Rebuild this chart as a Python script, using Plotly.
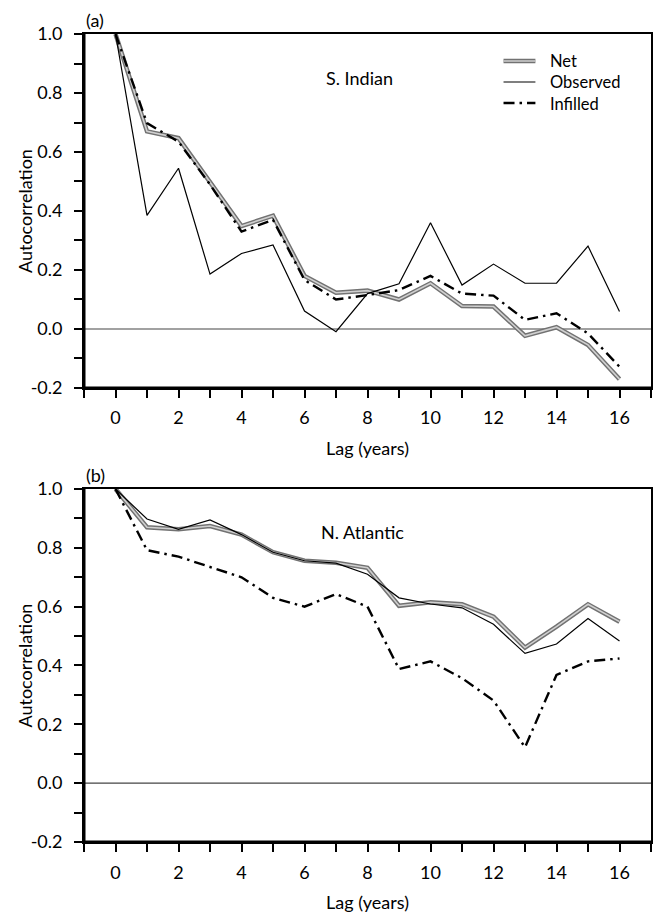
import plotly.graph_objects as go
from plotly.subplots import make_subplots

lags = list(range(17))

# (a) S. Indian
si_net = [1.0, 0.67, 0.647, 0.50, 0.349, 0.384, 0.18, 0.123, 0.13, 0.10, 0.155, 0.078, 0.076, -0.023, 0.006, -0.054, -0.17]
si_obs = [1.0, 0.385, 0.545, 0.186, 0.256, 0.285, 0.061, -0.009, 0.12, 0.153, 0.36, 0.149, 0.22, 0.155, 0.155, 0.281, 0.059]
si_inf = [1.0, 0.698, 0.635, 0.49, 0.33, 0.37, 0.166, 0.10, 0.115, 0.132, 0.18, 0.12, 0.113, 0.031, 0.053, -0.015, -0.128]

# (b) N. Atlantic
na_net = [1.0, 0.87, 0.863, 0.874, 0.845, 0.785, 0.756, 0.749, 0.732, 0.603, 0.615, 0.608, 0.566, 0.461, 0.532, 0.608, 0.549]
na_obs = [1.0, 0.898, 0.863, 0.895, 0.845, 0.785, 0.756, 0.748, 0.71, 0.63, 0.609, 0.596, 0.54, 0.441, 0.473, 0.56, 0.483]
na_inf = [1.0, 0.792, 0.77, 0.735, 0.70, 0.63, 0.60, 0.643, 0.60, 0.388, 0.414, 0.357, 0.281, 0.122, 0.368, 0.414, 0.424]

panel_labels = ["(a)", "(b)"]
region_names = ["S. Indian", "N. Atlantic"]
series_names = ["Net", "Observed", "Infilled"]
x_title = "Lag (years)"
y_title = "Autocorrelation"

x_tickvals = list(range(-1, 18))
x_ticktext = [str(v) if v % 2 == 0 and 0 <= v <= 16 else "" for v in x_tickvals]
y_tickvals = [round(-0.2 + 0.1 * i, 1) for i in range(13)]
y_ticktext = [f"{v:.1f}" if round(v * 10) % 2 == 0 else "" for v in y_tickvals]

FONT = "Lato, 'Open Sans', sans-serif"
FS = 18

# figure geometry (pixels)
W, H = 655, 915
ML, MR, MT, MB = 84, 2, 34, 73
PW, PH = W - ML - MR, H - MT - MB
DOM_A = [0.5619, 1.0]
DOM_B = [0.0, 0.4369]

NET_OUTER = dict(color="#727272", width=4.5)
NET_INNER = dict(color="#d0d0d0", width=1.6)
OBS_LINE = dict(color="black", width=1.2)
INF_LINE = dict(color="black", width=2.4, dash="11px,5px,2.5px,5px")

fig = make_subplots(rows=2, cols=1, vertical_spacing=0.125)

panels = [(si_net, si_obs, si_inf), (na_net, na_obs, na_inf)]
for i, (net, obs, inf) in enumerate(panels):
    row = i + 1
    # hatched grey "Net" band: darker outer stroke with a light core
    fig.add_trace(go.Scatter(x=lags, y=net, mode="lines", name=series_names[0],
                             line=NET_OUTER, showlegend=False), row=row, col=1)
    fig.add_trace(go.Scatter(x=lags, y=net, mode="lines", name=series_names[0],
                             line=NET_INNER, showlegend=False), row=row, col=1)
    fig.add_trace(go.Scatter(x=lags, y=obs, mode="lines", name=series_names[1],
                             line=OBS_LINE, showlegend=False), row=row, col=1)
    fig.add_trace(go.Scatter(x=lags, y=inf, mode="lines", name=series_names[2],
                             line=INF_LINE, showlegend=False), row=row, col=1)

axis_common = dict(showgrid=False, zeroline=False, showline=True, linecolor="black",
                   linewidth=1.8, mirror=True, ticks="outside", ticklen=8, tickwidth=2,
                   tickcolor="black", tickfont=dict(family=FONT, size=FS, color="black"))

for r in (1, 2):
    fig.update_xaxes(range=[-1, 17], tickmode="array", tickvals=x_tickvals, ticktext=x_ticktext,
                     ticklabelstandoff=5, row=r, col=1, **axis_common)
    fig.update_yaxes(range=[-0.2, 1.0], tickmode="array", tickvals=y_tickvals, ticktext=y_ticktext,
                     ticklabelstandoff=8, row=r, col=1, **axis_common)

fig.update_yaxes(domain=DOM_A, row=1, col=1)
fig.update_yaxes(domain=DOM_B, row=2, col=1)

for xr, yr in (("x", "y"), ("x2", "y2")):
    # zero reference line
    fig.add_shape(type="line", xref=f"{xr} domain", yref=yr, x0=0, x1=1, y0=0, y1=0,
                  line=dict(color="#444", width=1.2), layer="below")
    # heavier left and bottom axis strokes
    fig.add_shape(type="line", xref=f"{xr} domain", yref=f"{yr} domain", x0=0, x1=0, y0=0, y1=1,
                  line=dict(color="black", width=3))
    fig.add_shape(type="line", xref=f"{xr} domain", yref=f"{yr} domain", x0=0, x1=1, y0=0, y1=0,
                  line=dict(color="black", width=3))

annotations = []
for lab, dom in zip(panel_labels, (DOM_A, DOM_B)):
    annotations.append(dict(text=lab, xref="paper", yref="paper", x=0.0, y=dom[1],
                            xanchor="left", align="left", yanchor="bottom", yshift=1,
                            showarrow=False))
    annotations.append(dict(text=y_title, xref="paper", yref="paper", x=0.0,
                            y=(dom[0] + dom[1]) / 2, xanchor="center", yanchor="middle",
                            xshift=-59, textangle=-90, showarrow=False))
    annotations.append(dict(text=x_title, xref="paper", yref="paper", x=0.5, y=dom[0],
                            xanchor="center", yanchor="middle", yshift=-60, showarrow=False))
annotations.append(dict(text=region_names[0], xref="x", yref="y", x=6.62, y=0.85,
                        xanchor="left", align="left", yanchor="middle", showarrow=False))
annotations.append(dict(text=region_names[1], xref="x2", yref="y2", x=6.46, y=0.854,
                        xanchor="left", align="left", yanchor="middle", showarrow=False))

# key for the line styles, upper right of panel (a)
def px_x(p):
    return (p - ML) / PW

def px_y(p):
    return (H - MB - p) / PH

key_styles = [[NET_OUTER, NET_INNER], [OBS_LINE], [INF_LINE]]
for k, styles in enumerate(key_styles):
    yy = px_y(61 + 21 * k)
    for st in styles:
        fig.add_shape(type="line", xref="paper", yref="paper", x0=px_x(505), x1=px_x(537),
                      y0=yy, y1=yy, line=st)
annotations.append(dict(text="<br>".join(series_names), xref="paper", yref="paper",
                        x=px_x(550), y=px_y(82), xanchor="left", align="left",
                        yanchor="middle", showarrow=False,
                        font=dict(family=FONT, size=16.5, color="black")))

for a in annotations:
    a.setdefault("font", dict(family=FONT, size=FS, color="black"))
fig.update_layout(annotations=annotations)

fig.update_layout(
    width=W, height=H,
    margin=dict(l=ML, r=MR, t=MT, b=MB),
    paper_bgcolor="white", plot_bgcolor="white",
    font=dict(family=FONT, size=FS, color="black"),
    showlegend=False,
)

fig.write_html("out.html")
